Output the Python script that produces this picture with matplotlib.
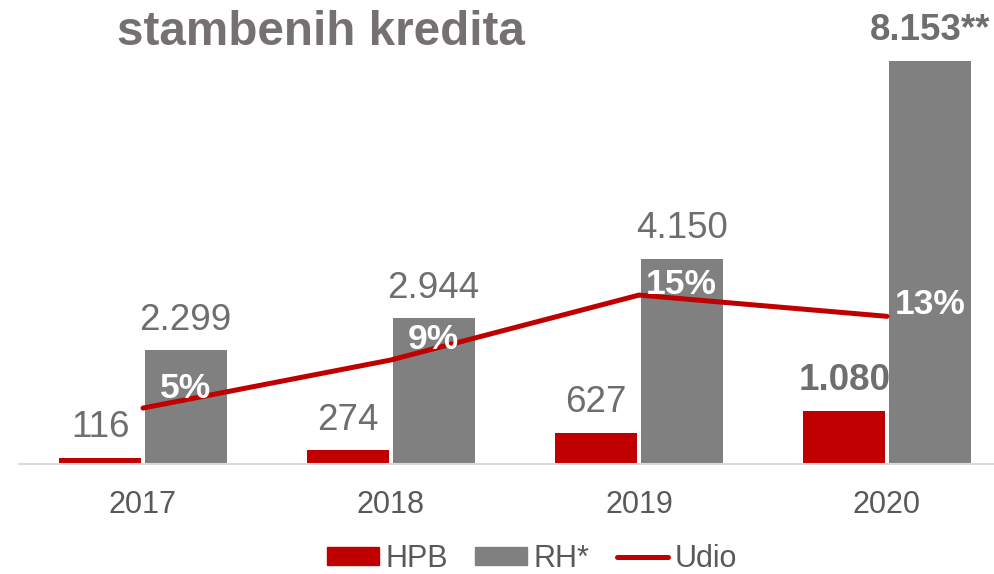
import matplotlib.pyplot as plt
import numpy as np

plt.rcParams['font.family'] = ['Liberation Sans', 'DejaVu Sans']

# data
years = ['2017', '2018', '2019', '2020']
hpb = [116, 274, 627, 1080]
rh = [2299, 2944, 4150, 8153]
udio = [5.0, 9.3, 15.1, 13.2]
hpb_labels = ['116', '274', '627', '1.080']
rh_labels = ['2.299', '2.944', '4.150', '8.153**']
udio_labels = ['5%', '9%', '15%', '13%']

red = '#C00000'
grey = '#808080'
text_grey = '#6E6E6E'

fig = plt.figure(figsize=(9.94, 5.74), dpi=100)
ax = fig.add_axes([19 / 994, 110 / 574, 992 / 994, 424 / 574])
ax2 = ax.twinx()

x = np.arange(len(years))
w = 0.33
off = 0.172
ax.bar(x - off, hpb, w, color=red, zorder=2)
ax.bar(x + off, rh, w, color=grey, zorder=2)

ax.set_xlim(-0.5, 3.5)
ax.set_ylim(0, 8578)
ax2.set_ylim(0, 37.9)

# value labels above the bars (2020 in bold)
for i in range(len(years)):
    wt = 'bold' if i == len(years) - 1 else 'normal'
    ax.annotate(hpb_labels[i], (x[i] - off, hpb[i]), xytext=(0, 15),
                textcoords='offset points', ha='center', va='baseline',
                fontsize=26.5, color=text_grey, fontweight=wt)
    ax.annotate(rh_labels[i], (x[i] + off, rh[i]), xytext=(0, 15),
                textcoords='offset points', ha='center', va='baseline',
                fontsize=26.5, color=text_grey, fontweight=wt)

ax2.plot(x, udio, color=red, lw=3.6, solid_capstyle='round', zorder=3,
         label='Udio')
pct_dy = [7, 8, 1, 2]
for i in range(len(years)):
    ax2.annotate(udio_labels[i], (x[i] + off, udio[i]), xytext=(0, pct_dy[i]),
                 textcoords='offset points', ha='center', va='baseline',
                 fontsize=25.5, color='white', fontweight='bold', zorder=4)

ax.set_xticks(x)
ax.set_xticklabels(years)
ax.tick_params(axis='x', length=0, pad=19, labelsize=22, labelcolor='#595959')
ax.set_yticks([])
ax2.set_yticks([])
for a in (ax, ax2):
    for s in ['top', 'left', 'right', 'bottom']:
        a.spines[s].set_visible(False)
ax.spines['bottom'].set_visible(True)
ax.spines['bottom'].set_color('#D9D9D9')
ax.spines['bottom'].set_linewidth(1.5)

fig.text(117 / 994, 1 - 45 / 574, 'stambenih kredita', fontsize=34.3,
         fontweight='bold', color='#767171', ha='left', va='baseline')

handles = [plt.Rectangle((0, 0), 1, 1, color=red),
           plt.Rectangle((0, 0), 1, 1, color=grey),
           plt.Line2D([], [], color=red, lw=3.6, solid_capstyle='round')]
fig.legend(handles, ['HPB', 'RH*', 'Udio'], loc='center',
           bbox_to_anchor=(532 / 994, 1 - 559 / 574), ncol=3, frameon=False,
           fontsize=22, labelcolor='#595959', handlelength=1.7,
           handleheight=0.52, handletextpad=0.2, columnspacing=0.9,
           borderpad=0)

fig.savefig('out.png', dpi=100)
